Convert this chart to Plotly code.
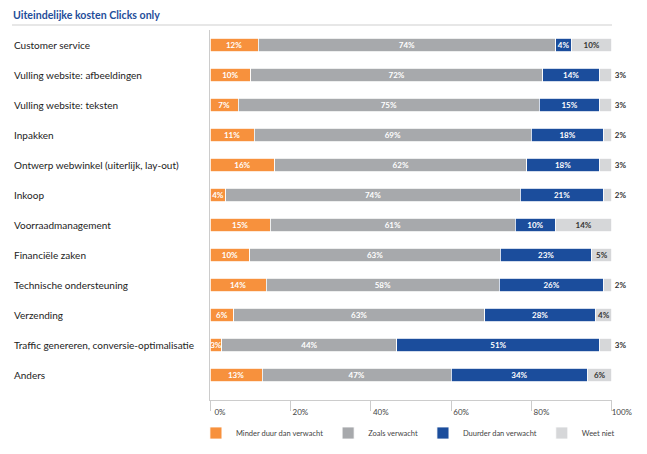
import plotly.graph_objects as go

categories = [
    "Customer service",
    "Vulling website: afbeeldingen",
    "Vulling website: teksten",
    "Inpakken",
    "Ontwerp webwinkel (uiterlijk, lay-out)",
    "Inkoop",
    "Voorraadmanagement",
    "Financiële zaken",
    "Technische ondersteuning",
    "Verzending",
    "Traffic genereren, conversie-optimalisatie",
    "Anders",
]
minder = [12, 10, 7, 11, 16, 4, 15, 10, 14, 6, 3, 13]
zoals = [74, 72, 75, 69, 62, 74, 61, 63, 58, 63, 44, 47]
duurder = [4, 14, 15, 18, 18, 21, 10, 23, 26, 28, 51, 34]
weet_niet = [10, 3, 3, 2, 3, 2, 14, 5, 2, 4, 3, 6]
series_names = ["Minder duur dan verwacht", "Zoals verwacht", "Duurder dan verwacht", "Weet niet"]
series_values = [minder, zoals, duurder, weet_niet]
colors = ["#F7913D", "#A7A9AC", "#1B4D9C", "#D6D7D9"]
text_colors = ["white", "white", "white", "#333333"]
tick_vals = [0, 20, 40, 60, 80, 100]
tick_text = ["0%", "20%", "40%", "60%", "80%", "100%"]
title = "Uiteindelijke kosten Clicks only"

# rows are drawn as 100% stacked bars (each row normalised to its total)
totals = [sum(t) for t in zip(*series_values)]

FONT = "Lato"
# page body adds an 8px margin, so the figure is sized to 639x446
W, H = 639, 446
L, T, B = 202, 22, 54
PW = 402
R = W - L - PW
PH = H - T - B
lab_x = (4 - L) / PW  # left edge of category labels in paper coords

fig = go.Figure()
for i, (name, vals) in enumerate(zip(series_names, series_values)):
    fig.add_trace(go.Bar(
        y=categories, x=[v / t * 100 for v, t in zip(vals, totals)],
        name=name, orientation="h",
        marker=dict(color=colors[i], line=dict(color="white", width=0.8)),
        text=[f"{v}%" for v in vals],
        textposition="auto" if i == 3 else "inside",
        insidetextanchor="middle", textangle=0,
        textfont=dict(family=FONT, size=8, color=text_colors[i], weight="bold"),
        insidetextfont=dict(family=FONT, size=8, color=text_colors[i], weight="bold"),
        outsidetextfont=dict(family=FONT, size=8, color="#333333", weight="bold"),
        cliponaxis=False,
        hoverinfo="skip",
    ))

for c in categories:
    fig.add_annotation(x=lab_x, xref="paper", y=c, yref="y", text=c,
                       showarrow=False, xanchor="left", yanchor="middle",
                       font=dict(family=FONT, size=10, color="#222222"))

fig.add_annotation(x=lab_x, xref="paper", y=1 + T / PH, yref="paper",
                   text=f"<b>{title}</b>", borderpad=0,
                   showarrow=False, xanchor="left", yanchor="top",
                   font=dict(family=FONT, size=10.6, color="#1F4E9A"))
fig.add_shape(type="line", xref="paper", yref="paper", x0=lab_x, x1=1.0,
              y0=1 + (T - 17) / PH, y1=1 + (T - 17) / PH,
              line=dict(color="#CFCFCF", width=1))

fig.update_layout(
    width=W, height=H,
    margin=dict(l=L, r=R, t=T, b=B, autoexpand=False),
    barmode="stack", bargap=0.55,
    plot_bgcolor="white", paper_bgcolor="white",
    uniformtext=dict(mode="show", minsize=8),
    showlegend=True,
    legend=dict(orientation="h", x=-0.035, xanchor="left",
                y=-(33 / PH), yanchor="middle",
                traceorder="normal",
                font=dict(family=FONT, size=7.5, color="#444444"),
                itemwidth=30, tracegroupgap=0),
    xaxis=dict(range=[0, 100.05], tickvals=tick_vals, ticktext=tick_text,
               showgrid=False, zeroline=False, showline=True, linecolor="#CCCCCC",
               ticks="outside", ticklen=10, tickcolor="#CCCCCC",
               ticklabelshift=10, ticklabelstandoff=-6,
               tickfont=dict(family=FONT, size=8, color="#444444")),
    yaxis=dict(categoryorder="array", categoryarray=categories,
               range=[11.83, -0.5], showticklabels=False, showgrid=False,
               zeroline=False, showline=True, linecolor="#CCCCCC", ticks=""),
)
fig.write_html("out.html")
